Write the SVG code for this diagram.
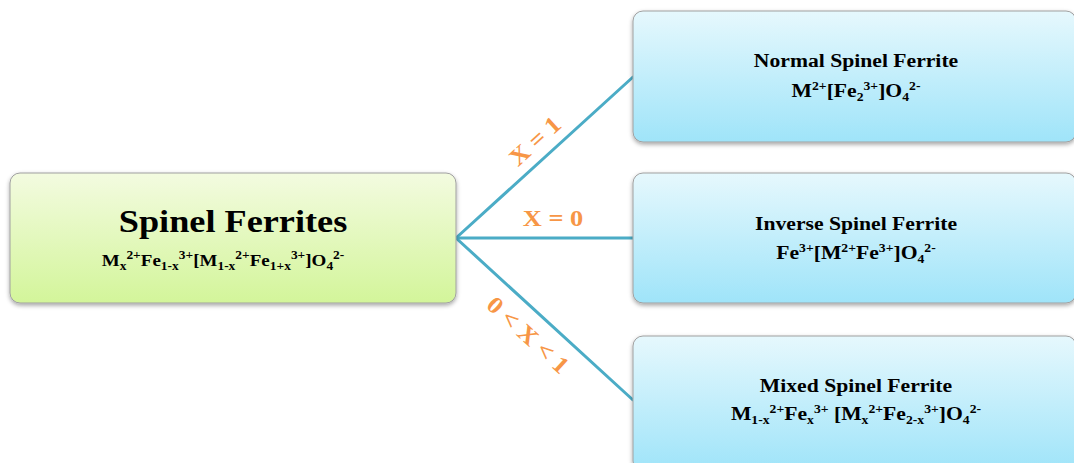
<svg xmlns="http://www.w3.org/2000/svg" width="1074" height="463" viewBox="0 0 1074 463">
<style>
.t{font-family:"Liberation Serif","Times New Roman",serif;font-weight:bold;fill:#000;text-anchor:middle}
.lb{font-family:"Liberation Serif","Times New Roman",serif;font-weight:bold;fill:#F79646;text-anchor:middle;font-size:24px}
.sb{font-size:12px;baseline-shift:-4px}
.sp{font-size:12px;baseline-shift:7px}
.box{stroke:#a0a0a0;stroke-width:1}
.conn{stroke:#4BACC6;stroke-width:3;fill:none;stroke-linecap:round}
</style>
<defs>
<linearGradient id="gG" x1="0" y1="0" x2="0" y2="1">
<stop offset="0" stop-color="#f3fbe0"/>
<stop offset="1" stop-color="#d3f59a"/>
</linearGradient>
<linearGradient id="gB" x1="0" y1="0" x2="0" y2="1">
<stop offset="0" stop-color="#e6f8fd"/>
<stop offset="1" stop-color="#9fe4f9"/>
</linearGradient>
<filter id="sh" x="-5%" y="-10%" width="110%" height="125%">
<feDropShadow dx="0" dy="2" stdDeviation="2" flood-color="#000" flood-opacity="0.35"/>
</filter>
</defs>
<rect width="1074" height="463" fill="#fff"/>
<g id="connectors">
<line class="conn" x1="456" y1="238" x2="633" y2="77"/>
<line class="conn" x1="456" y1="238" x2="633" y2="238"/>
<line class="conn" x1="456" y1="238" x2="633" y2="400"/>
<text class="lb" transform="translate(535,141) rotate(-42.3) scale(1.1,1)" y="8">X = 1</text>
<text class="lb" transform="translate(553,226) scale(1.1,1)">X = 0</text>
<text class="lb" transform="translate(528,335) rotate(42.3) scale(1.1,1)" y="8">0 &lt; X &lt; 1</text>
</g>
<g id="spinel-ferrites">
<rect class="box" x="10" y="173" width="446" height="130" rx="10" fill="url(#gG)" filter="url(#sh)"/>
<text class="t" transform="translate(233,232) scale(1.17,1)" font-size="31">Spinel Ferrites</text>
<text class="t" transform="translate(223,266) scale(1.12,1)" font-size="17">M<tspan class="sb">x</tspan><tspan class="sp">2+</tspan>Fe<tspan class="sb">1-x</tspan><tspan class="sp">3+</tspan>[M<tspan class="sb">1-x</tspan><tspan class="sp">2+</tspan>Fe<tspan class="sb">1+x</tspan><tspan class="sp">3+</tspan>]O<tspan class="sb">4</tspan><tspan class="sp">2-</tspan></text>
</g>
<g id="normal-spinel">
<rect class="box" x="633" y="11" width="443" height="131" rx="10" fill="url(#gB)" filter="url(#sh)"/>
<text class="t" transform="translate(856,67) scale(1.14,1)" font-size="19">Normal Spinel Ferrite</text>
<text class="t" transform="translate(856,97) scale(1.14,1)" font-size="19">M<tspan class="sp">2+</tspan>[Fe<tspan class="sb">2</tspan><tspan class="sp">3+</tspan>]O<tspan class="sb">4</tspan><tspan class="sp">2-</tspan></text>
</g>
<g id="inverse-spinel">
<rect class="box" x="633" y="173" width="443" height="130" rx="10" fill="url(#gB)" filter="url(#sh)"/>
<text class="t" transform="translate(856,230) scale(1.14,1)" font-size="19">Inverse Spinel Ferrite</text>
<text class="t" transform="translate(856,259) scale(1.14,1)" font-size="19">Fe<tspan class="sp">3+</tspan>[M<tspan class="sp">2+</tspan>Fe<tspan class="sp">3+</tspan>]O<tspan class="sb">4</tspan><tspan class="sp">2-</tspan></text>
</g>
<g id="mixed-spinel">
<rect class="box" x="633" y="336" width="443" height="135" rx="10" fill="url(#gB)" filter="url(#sh)"/>
<text class="t" transform="translate(856,392) scale(1.14,1)" font-size="19">Mixed Spinel Ferrite</text>
<text class="t" transform="translate(856,420) scale(1.14,1)" font-size="19">M<tspan class="sb">1-x</tspan><tspan class="sp">2+</tspan>Fe<tspan class="sb">x</tspan><tspan class="sp">3+</tspan> [M<tspan class="sb">x</tspan><tspan class="sp">2+</tspan>Fe<tspan class="sb">2-x</tspan><tspan class="sp">3+</tspan>]O<tspan class="sb">4</tspan><tspan class="sp">2-</tspan></text>
</g>
</svg>
